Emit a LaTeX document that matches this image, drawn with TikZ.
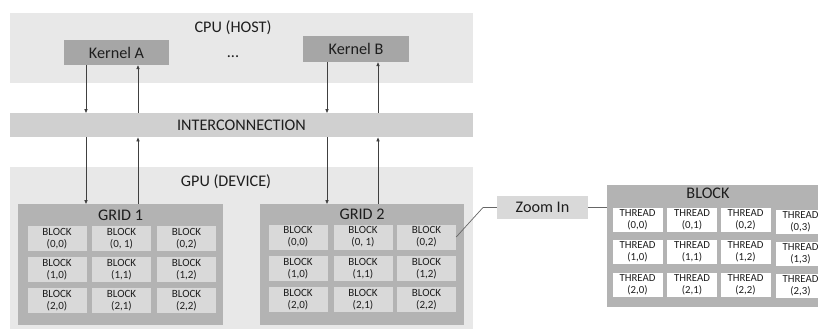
\documentclass[tikz,border=0pt]{standalone}
\usepackage{fontspec}
\setmainfont{Carlito}
\usetikzlibrary{arrows.meta,positioning}

\definecolor{areagray}{HTML}{E8E8E8}
\definecolor{kernelgray}{HTML}{A6A6A6}
\definecolor{busgray}{HTML}{D0D0D0}
\definecolor{gridgray}{HTML}{B3B3B3}
\definecolor{cellgray}{HTML}{D9D9D9}
\definecolor{inkgray}{HTML}{1E1E1E}

\begin{document}
\begin{tikzpicture}[
  x=1pt, y=-1pt,
  every node/.style={text=inkgray, inner sep=0pt},
  area/.style={fill=areagray, anchor=north west},
  gridbox/.style={fill=gridgray, anchor=north west},
  title/.style={font=\fontsize{16.2}{18}\selectfont},
  kernel/.style={fill=kernelgray, minimum width=105pt, minimum height=25pt, font=\fontsize{16.2}{18}\selectfont},
  bus/.style={fill=busgray, anchor=north west},
  blk/.style={fill=cellgray, minimum width=59pt, minimum height=25pt, align=center, font=\fontsize{11}{11.8}\selectfont},
  thr/.style={fill=white, minimum width=50pt, minimum height=24pt, align=center, font=\fontsize{10.8}{11.8}\selectfont},
  zoombox/.style={fill=cellgray, minimum width=91pt, minimum height=23pt, font=\fontsize{16.2}{18}\selectfont},
  arrow/.style={-{Triangle[length=4pt, width=3.2pt]}, line width=0.8pt, draw=black!75},
  link/.style={line width=0.7pt, draw=black!60}
]
\clip (0,0) rectangle (818,329);

% host side
\node[area, minimum width=463pt, minimum height=70pt] (cpu) at (10,13) {};
\node[title] (cputitle) at (233,28) {CPU (HOST)};
\node[kernel] (kerA) at (116.5,52.5) {Kernel A};
\node[kernel, minimum width=106pt, minimum height=26pt] (kerB) at (356,49) {Kernel B};
\node[title] (dots) at (233,57) {...};

% interconnection
\node[bus, minimum width=463pt, minimum height=24pt] (ic) at (10,113) {};
\node[title] (ictitle) at (241.5,125.5) {INTERCONNECTION};

% device side
\node[area, minimum width=463pt, minimum height=162pt] (gpu) at (10,167) {};
\node[title] (gputitle) at (226,182) {GPU (DEVICE)};

\node[gridbox, minimum width=205pt, minimum height=121pt] (grid1) at (18,204) {};
\node[title] (g1title) at (120.5,215) {GRID 1};
\node[blk] (g1c00) at (57,238.5) {BLOCK\\(0,0)};
\node[blk] (g1c01) at (121.5,238.5) {BLOCK\\(0, 1)};
\node[blk] (g1c02) at (186.5,238.5) {BLOCK\\(0,2)};
\node[blk] (g1c10) at (57,269.5) {BLOCK\\(1,0)};
\node[blk] (g1c11) at (121.5,269.5) {BLOCK\\(1,1)};
\node[blk] (g1c12) at (186.5,269.5) {BLOCK\\(1,2)};
\node[blk] (g1c20) at (57,300.5) {BLOCK\\(2,0)};
\node[blk] (g1c21) at (121.5,300.5) {BLOCK\\(2,1)};
\node[blk] (g1c22) at (186.5,300.5) {BLOCK\\(2,2)};

\node[gridbox, minimum width=204pt, minimum height=121pt] (grid2) at (260,204) {};
\node[title] (g2title) at (362,214) {GRID 2};
\node[blk] (g2c00) at (298,237) {BLOCK\\(0,0)};
\node[blk] (g2c01) at (363,237) {BLOCK\\(0, 1)};
\node[blk] (g2c02) at (426.5,237) {BLOCK\\(0,2)};
\node[blk] (g2c10) at (298,268.5) {BLOCK\\(1,0)};
\node[blk] (g2c11) at (363,268.5) {BLOCK\\(1,1)};
\node[blk] (g2c12) at (426.5,268.5) {BLOCK\\(1,2)};
\node[blk] (g2c20) at (298,299.5) {BLOCK\\(2,0)};
\node[blk] (g2c21) at (363,299.5) {BLOCK\\(2,1)};
\node[blk] (g2c22) at (426.5,299.5) {BLOCK\\(2,2)};

% zoom into one block
\node[zoombox] (zoom) at (542.5,207.5) {Zoom In};
\node[gridbox, minimum width=230pt, minimum height=122pt] (block) at (607,185) {};
\node[title] (blktitle) at (708,193.5) {BLOCK};
\node[thr] (t00) at (637.5,219.5) {THREAD\\(0,0)};
\node[thr] (t01) at (692,219.5) {THREAD\\(0,1)};
\node[thr] (t02) at (745.5,219.5) {THREAD\\(0,2)};
\node[thr] (t03) at (800.5,221.5) {THREAD\\(0,3)};
\node[thr] (t10) at (637.5,251.5) {THREAD\\(1,0)};
\node[thr] (t11) at (692,251.5) {THREAD\\(1,1)};
\node[thr] (t12) at (745.5,251.5) {THREAD\\(1,2)};
\node[thr] (t13) at (800.5,253.5) {THREAD\\(1,3)};
\node[thr] (t20) at (637.5,284.5) {THREAD\\(2,0)};
\node[thr] (t21) at (692,284.5) {THREAD\\(2,1)};
\node[thr] (t22) at (745.5,284.5) {THREAD\\(2,2)};
\node[thr] (t23) at (800.5,285.5) {THREAD\\(2,3)};

% host <-> interconnection
\draw[arrow] (86,0 |- kerA.south) -- (86,0 |- ic.north);
\draw[arrow] (138,0 |- ic.north) -- (138,1 |- kerA.south);
\draw[arrow] (327,0 |- kerB.south) -- (327,0 |- ic.north);
\draw[arrow] (378,0 |- ic.north) -- (378,1 |- kerB.south);

% interconnection <-> device
\draw[arrow] (86,0 |- ic.south) -- (86,-5 |- grid1.north);
\draw[arrow] (138,0 |- grid1.north) -- (138,0 |- ic.south);
\draw[arrow] (327,0 |- ic.south) -- (327,-5 |- grid2.north);
\draw[arrow] (378,0 |- grid2.north) -- (378,0 |- ic.south);

\draw[link] (g2c02.east) -- (483,0 |- zoom.west) -- (zoom.west);
\draw[link] (zoom.east) -- (zoom.east -| block.west);
\end{tikzpicture}
\end{document}
